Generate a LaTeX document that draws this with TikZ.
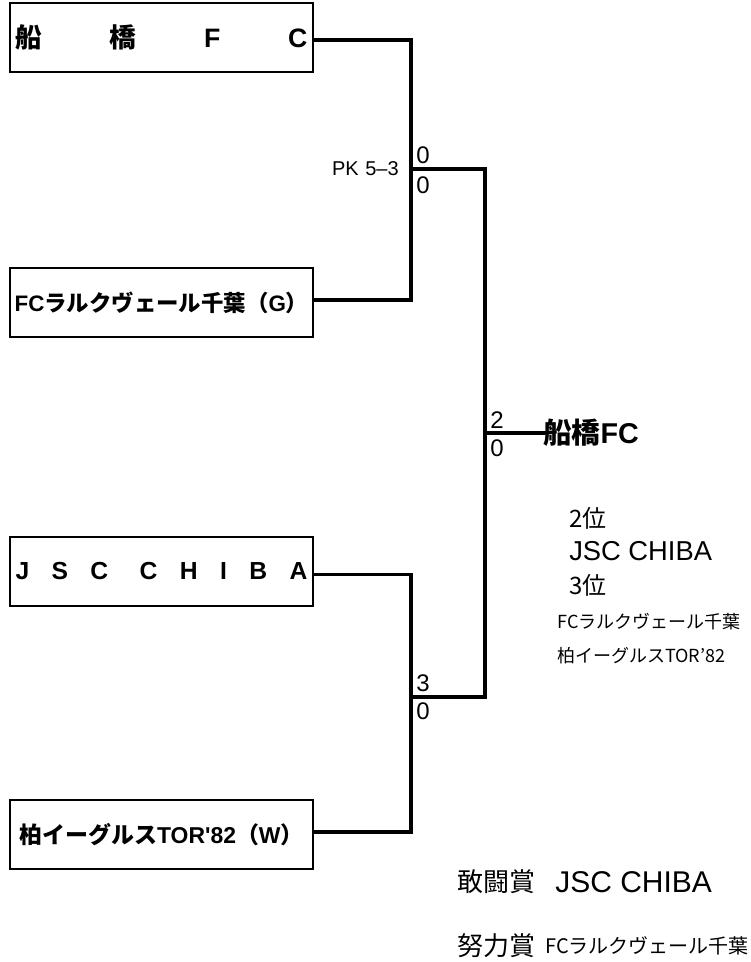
\documentclass[tikz,border=0pt]{standalone}
\usepackage{fontspec}
\setmainfont{Noto Sans CJK JP}
\newfontfamily\lat{Liberation Sans}
\begin{document}
\begin{tikzpicture}[x=0.75pt,y=-0.75pt,
  teambox/.style={draw,line width=1pt,minimum width=227.25pt,minimum height=51.75pt,inner sep=0pt,font=\bfseries\fontsize{17}{19}\selectfont},
  br/.style={line width=2.5pt,line cap=rect},
  score/.style={anchor=west,inner sep=0pt,font=\lat\fontsize{18}{20}\selectfont},
  small/.style={anchor=west,inner sep=0pt,font=\fontsize{13.5}{15}\selectfont}]
\useasboundingbox (0,0) rectangle (750,962);
% teams
\node[teambox,font=\bfseries\fontsize{20}{22}\selectfont] (t1) at (161.5,37.5) {\parbox{219pt}{船\hfill 橋\hfill {\lat F}\hfill {\lat C}}};
\node[teambox,font=\bfseries\fontsize{16.8}{19}\selectfont] (t2) at (161.5,302.5) {{\lat FC}ラルクヴェール千葉（{\lat G}）};
\node[teambox,font=\lat\bfseries\fontsize{18.5}{20}\selectfont] (t3) at (161.5,571.5) {\parbox{219pt}{J\hfill S\hfill C\hskip 0pt plus 1.4fill C\hfill H\hfill I\hfill B\hfill A}};
\node[teambox,font=\bfseries\fontsize{17.2}{19}\selectfont] (t4) at (161.5,834.5) {柏イーグルス{\lat TOR'82}（{\lat W}）};
% junctions
\coordinate (j1) at (411,169);
\coordinate (j2) at (411,697);
\coordinate (f) at (485,433);
\node[anchor=west,inner sep=0pt,font=\bfseries\fontsize{21.5}{23}\selectfont] (w) at (543,433) {船橋{\lat FC}};
% brackets
\draw[br] ([yshift=-2pt]t1.east) -| (j1) |- ([yshift=2pt]t2.east);
\draw[br] ([yshift=-2pt]t3.east) -| (j2) |- ([yshift=2pt]t4.east);
\draw[br] (j1) -| (f) |- (j2);
\draw[br] (f) -- (f -| w.west);
% scores
\node[score] (s1a) at (416,155) {0};
\node[score] (s1b) at (416,185) {0};
\node[anchor=east,inner sep=0pt,font=\lat\fontsize{15}{17}\selectfont] (pk) at (399,169) {PK\hspace{5pt}5–3};
\node[score] (s2a) at (490,420) {2};
\node[score] (s2b) at (490,448) {0};
\node[score] (s3a) at (416,683) {3};
\node[score] (s3b) at (416,711) {0};
% results
\node[anchor=west,inner sep=0pt,font=\fontsize{18}{20}\selectfont] (r2) at (569,518) {2位};
\node[anchor=west,inner sep=0pt,font=\lat\fontsize{20.5}{22}\selectfont] (r2n) at (569,551) {JSC CHIBA};
\node[anchor=west,inner sep=0pt,font=\fontsize{18}{20}\selectfont] (r3) at (569,585) {3位};
\node[small] (r3a) at (557,622) {FCラルクヴェール千葉};
\node[small] (r3b) at (557,656) {柏イーグルスTOR’82};
% awards
\node[anchor=west,inner sep=0pt,font=\fontsize{19.5}{21}\selectfont] (a1) at (457,882) {敢闘賞};
\node[anchor=west,inner sep=0pt,font=\lat\fontsize{22.5}{24}\selectfont] (a1n) at (555,882) {JSC CHIBA};
\node[anchor=west,inner sep=0pt,font=\fontsize{19.5}{21}\selectfont] (a2) at (457,946) {努力賞};
\node[anchor=west,inner sep=0pt,font=\fontsize{15}{17}\selectfont] (a2n) at (545,946) {FCラルクヴェール千葉};
\end{tikzpicture}
\end{document}
